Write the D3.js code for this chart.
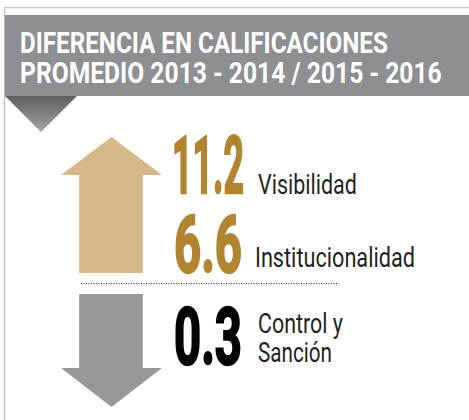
<!DOCTYPE html>
<html>
<head>
<meta charset="utf-8">
<script src="https://cdn.jsdelivr.net/npm/d3@7"></script>
<style>
  body { margin: 0; background: #fff; }
  svg { display: block; }
</style>
</head>
<body>
<div id="chart"></div>
<script>
// Data
var titleLines = ["DIFERENCIA EN CALIFICACIONES", "PROMEDIO 2013 - 2014 / 2015 - 2016"];
var upLabels = ["Visibilidad", "Institucionalidad"];
var upValues = [11.2, 6.6];
var downLabels = [["Control y", "Sanción"]];
var downValues = [0.3];

var svgWidth = 469;
var svgHeight = 420;

var svg = d3.select("#chart")
    .append("svg")
    .attr("width", svgWidth)
    .attr("height", svgHeight);

// squeeze a text horizontally so it spans w pixels (condensed look)
function fit(sel, x, y, w) {
    sel.each(function(d, i) {
        var node = this;
        var nat = node.getComputedTextLength();
        var xx = typeof x === "function" ? x(d, i) : x;
        var yy = typeof y === "function" ? y(d, i) : y;
        var ww = typeof w === "function" ? w(d, i) : w;
        d3.select(node).attr("transform",
            `translate(${xx},${yy}) scale(${ww / nat},1)`);
    });
}

// gradient for the little triangle under the header
var defs = svg.append("defs");
var grad = defs.append("linearGradient")
    .attr("id", "triGrad")
    .attr("x1", 0).attr("y1", 0).attr("x2", 0).attr("y2", 1);
grad.append("stop").attr("offset", "0%").attr("stop-color", "#5e5f62");
grad.append("stop").attr("offset", "100%").attr("stop-color", "#a3a4a6");

// frame lines
svg.append("line")
    .attr("x1", 5).attr("x2", svgWidth).attr("y1", 7.5).attr("y2", 7.5)
    .attr("stroke", "#c4c4c4").attr("stroke-width", 1.5);
svg.append("line")
    .attr("x1", 4.5).attr("x2", 4.5).attr("y1", 7).attr("y2", svgHeight)
    .attr("stroke", "#c4c4c4").attr("stroke-width", 1.5);

// header
svg.append("rect")
    .attr("x", 5).attr("y", 15)
    .attr("width", svgWidth - 5).attr("height", 81)
    .attr("fill", "#8e8f92");

svg.append("path")
    .attr("d", "M5,96 L77,96 L41,132 Z")
    .attr("fill", "url(#triGrad)");

var titleWidths = [368, 422];
svg.selectAll(".title")
    .data(titleLines).enter()
    .append("text")
    .attr("class", "title")
    .attr("font-family", "Roboto")
    .attr("font-weight", "bold")
    .attr("font-size", 30)
    .attr("fill", "#fff")
    .text(d => d)
    .call(fit, 20, (d, i) => 53 + i * 30, (d, i) => titleWidths[i]);

// arrows
var arrowX = d3.scaleLinear().domain([0, 1]).range([61, 162]);
var upY = d3.scaleLinear().domain([0, 1]).range([137, 273]);
var downY = d3.scaleLinear().domain([0, 1]).range([294, 407]);

var shaft = [0.18, 0.81];
var upArrow = [
    [0.5, 0], [1, 0.28], [shaft[1], 0.28], [shaft[1], 1],
    [shaft[0], 1], [shaft[0], 0.28], [0, 0.28]
];
var downArrow = [
    [shaft[0], 0], [shaft[1], 0], [shaft[1], 0.655], [1, 0.655],
    [0.5, 1], [0, 0.655], [shaft[0], 0.655]
];

svg.append("path")
    .attr("d", d3.line().x(d => arrowX(d[0])).y(d => upY(d[1]))(upArrow) + "Z")
    .attr("fill", "#d5b886");

svg.append("path")
    .attr("d", d3.line().x(d => arrowX(d[0])).y(d => downY(d[1]))(downArrow) + "Z")
    .attr("fill", "#97989b");

// divider
svg.append("line")
    .attr("x1", 81).attr("x2", 337).attr("y1", 283.5).attr("y2", 283.5)
    .attr("stroke", "#333").attr("stroke-width", 1)
    .attr("stroke-dasharray", "1,1.5");

// up rows
var upRow = d3.scalePoint().domain(upLabels).range([193, 272]);
var numWidth = d3.scaleOrdinal().domain(["11.2", "6.6", "0.3"]).range([72, 68, 68]);
var labelWidth = d3.scaleOrdinal().domain(upLabels).range([99, 160]);

var upGroup = svg.selectAll(".up")
    .data(upLabels).enter()
    .append("g")
    .attr("class", "up");

upGroup.append("text")
    .attr("font-family", "Roboto")
    .attr("font-weight", "bold")
    .attr("font-size", 79)
    .attr("fill", "#b1852f")
    .attr("stroke", "#b1852f")
    .attr("stroke-width", 2.4)
    .text((d, i) => upValues[i].toFixed(1))
    .call(fit, (d, i) => i === 0 ? 172 : 174, d => upRow(d),
          (d, i) => numWidth(upValues[i].toFixed(1)));

upGroup.append("text")
    .attr("font-family", "Roboto")
    .attr("font-size", 27)
    .attr("fill", "#231f20")
    .text(d => d)
    .call(fit, (d, i) => i === 0 ? 258 : 255,
          d => upRow(d) + (d === upLabels[0] ? 1 : -5),
          d => labelWidth(d));

// down rows
var downRow = d3.scalePoint().domain(downValues).range([364, 364]);

var downGroup = svg.selectAll(".down")
    .data(downValues).enter()
    .append("g")
    .attr("class", "down");

downGroup.append("text")
    .attr("font-family", "Roboto")
    .attr("font-weight", "bold")
    .attr("font-size", 80)
    .attr("fill", "#000")
    .attr("stroke", "#000")
    .attr("stroke-width", 2.4)
    .text(d => d.toFixed(1))
    .call(fit, 174, d => downRow(d), d => numWidth(d.toFixed(1)));

var downLabelWidths = [85, 74];
downGroup.selectAll(".lbl")
    .data((d, i) => downLabels[i]).enter()
    .append("text")
    .attr("class", "lbl")
    .attr("font-family", "Roboto")
    .attr("font-size", 27)
    .attr("fill", "#231f20")
    .text(d => d)
    .call(fit, 258, (d, j) => 333 + j * 29, (d, j) => downLabelWidths[j]);
</script>
</body>
</html>
